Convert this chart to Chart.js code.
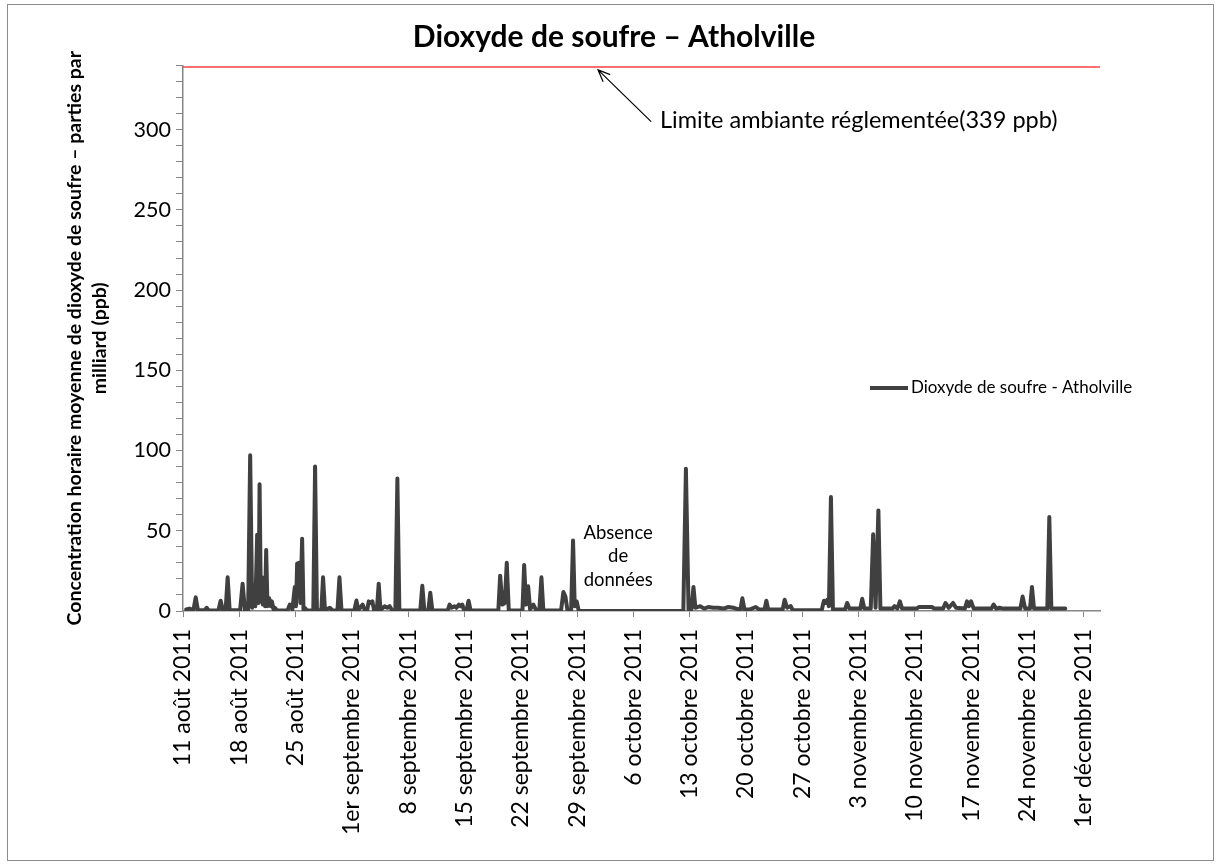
<!DOCTYPE html>
<html>
<head>
<meta charset="utf-8">
<script src="https://cdn.jsdelivr.net/npm/chart.js@4.4.1/dist/chart.umd.min.js"></script>
<style>
  html, body { margin: 0; padding: 0; background: #fff; }
  #wrap { position: relative; width: 1220px; height: 867px; }
  #frame { position: absolute; left: 7px; top: 4px; width: 1205px; height: 855px; border: 1.5px solid #8c8c8c; pointer-events: none; }
</style>
</head>
<body>
<div id="wrap">
  <canvas id="so2Chart" width="1220" height="867"></canvas>
  <div id="frame"></div>
</div>
<script>
// Hourly SO2 readings, days counted from 11 August 2011
const days = [
  0.4, 0.8, 1.3, 1.58, 1.85, 2.7, 2.94, 3.2, 4.4, 4.68, 4.95, 5.3, 5.55, 5.8, 7.1, 7.41, 7.7,
  8.1, 8.35, 8.6, 8.81, 9.0, 9.22, 9.4, 9.52, 9.68, 9.81, 9.93, 10.05, 10.2, 10.34, 10.5, 10.71,
  10.9, 11.05, 11.25, 11.42, 11.7, 13.0, 13.28, 13.6, 13.9, 14.05, 14.19, 14.3, 14.43, 14.6, 14.81,
  14.98, 15.14, 15.4, 16.2, 16.42, 16.65, 17.2, 17.41, 17.65, 18.25, 18.6, 19.2, 19.45, 19.7,
  21.3, 21.56, 21.8, 22.34, 22.6, 22.9, 23.09, 23.3, 23.54, 23.75, 24.1, 24.33, 24.55, 25.07,
  25.4, 25.69, 26.0, 26.4, 26.65, 26.9,
  29.5, 29.75, 30.0, 30.5, 30.74, 31.0, 32.9, 33.14, 33.4, 33.76, 34.0, 34.29, 34.5, 34.72, 34.95,
  35.25, 35.5, 35.75, 39.2, 39.43, 39.7, 40.0, 40.25, 40.5, 42.2, 42.41, 42.65, 42.91, 43.15,
  43.56, 43.9, 44.3, 44.56, 44.8, 47.0, 47.29, 47.54, 47.8, 48.25, 48.49, 48.7, 48.94, 49.2,
  62.2, 62.52, 62.85, 63.2, 63.46, 63.7, 64.3, 64.8, 65.3, 65.9, 66.5, 67.2, 67.8, 68.4, 69.1,
  69.3, 69.54, 69.8, 70.5, 71.2, 71.6, 72.3, 72.52, 72.75, 74.55, 74.8, 75.1, 75.55, 75.8,
  79.4, 79.68, 79.9, 80.09, 80.3, 80.55, 80.8, 81.3, 82.3, 82.57, 82.85, 84.2, 84.44, 84.7,
  85.5, 85.8, 86.1, 86.45, 86.7, 88.2, 88.46, 88.8, 89.12, 89.4, 91.2, 91.47, 93.1, 93.4,
  94.5, 94.79, 95.2, 95.73, 96.1, 97.2, 97.47, 97.7, 97.97, 98.3, 100.5, 100.78, 101.1, 101.5,
  102.0, 104.1, 104.38, 104.7, 105.3, 105.54, 105.8, 107.45, 107.7, 107.95, 109.68
];
const so2 = [
  1, 1.5, 0.5, 8.5, 0.5, 0.5, 2, 0.3, 0.3, 6.4, 0.5, 0.5, 21, 0.5, 0.5, 17, 0.5,
  0.5, 97, 2, 16, 3, 47.6, 5, 79, 6, 21, 4, 12, 3, 38, 3, 8,
  3, 6, 1, 2, 0.3, 0.3, 4, 1, 15, 3, 29.6, 12, 30, 5, 45,
  1, 2, 0.3, 0.3, 90, 0.5, 0.5, 21, 0.5, 2, 0.3, 0.3, 21, 0.5,
  0.3, 6.5, 0.5, 4, 0.5, 0.5, 6, 5, 6, 0.5, 0.5, 17, 0.5, 3,
  2, 3, 0.5, 0.3, 82.6, 0.3,
  0.3, 15.7, 0.3, 0.3, 11.4, 0.3, 0.3, 4, 2, 3, 2, 4, 3, 4, 0.3,
  0.3, 6.4, 0.3, 0.3, 22, 4, 5, 30, 0.3, 0.3, 28.6, 4, 15.4, 1,
  4, 0.5, 0.5, 21, 0.3, 0.3, 11.8, 9, 0.3, 0.3, 44, 3, 6, 0,
  0, 88.6, 1, 1, 15, 2, 3, 1.5, 2.5, 2, 2, 1.5, 2.5, 2, 1,
  1, 7.9, 1, 1, 2.5, 1, 1, 6.4, 1, 1, 7, 2, 3, 0.5,
  0.5, 6.4, 5, 7, 3, 71, 1, 1, 1, 5, 1.5, 1.5, 7.6, 1.5,
  1.5, 47.8, 2, 62.7, 1.5, 1.5, 3, 1.5, 6, 1.5, 1.5, 2.5, 2.5, 1.5,
  1.5, 5, 2, 5, 2, 1.5, 6, 3, 6, 1.5, 1.5, 4, 1.5, 2,
  1.5, 1.5, 9, 1.5, 1.5, 15, 1.5, 1.5, 58.6, 1.5, 1.5
];

const tickDays = [0, 7, 14, 21, 28, 35, 42, 49, 56, 63, 70, 77, 84, 91, 98, 105, 112];
const tickLabels = [
  '11 août 2011', '18 août 2011', '25 août 2011', '1er septembre 2011', '8 septembre 2011',
  '15 septembre 2011', '22 septembre 2011', '29 septembre 2011', '6 octobre 2011',
  '13 octobre 2011', '20 octobre 2011', '27 octobre 2011', '3 novembre 2011',
  '10 novembre 2011', '17 novembre 2011', '24 novembre 2011', '1er décembre 2011'
];
const yLabels = [0, 50, 100, 150, 200, 250, 300];
const yMax = 340;
const xMax = 114;
const limitValue = 339;

const chartTitle = 'Dioxyde de soufre – Atholville';
const seriesName = 'Dioxyde de soufre - Atholville';
const limitText = 'Limite ambiante réglementée(339 ppb)';
const gapText = ['Absence', 'de', 'données'];

const FONT = 'Lato, "Liberation Sans", sans-serif';
Chart.defaults.font.family = FONT;
Chart.defaults.color = '#000';

// Title, notes, arrow and legend drawn on top of the plot
const notesPlugin = {
  id: 'notes',
  afterDatasetsDraw(chart) {
    const { ctx, scales: { x, y } } = chart;
    ctx.save();

    ctx.fillStyle = '#000';
    ctx.font = 'bold 30px ' + FONT;
    ctx.textAlign = 'center';
    ctx.textBaseline = 'middle';
    ctx.fillText(chartTitle, 614, 37);

    // arrow pointing at the limit line
    const x1 = x.getPixelForValue(58.2), y1 = y.getPixelForValue(305);
    const x2 = x.getPixelForValue(51.6), y2 = y.getPixelForValue(337.3);
    ctx.strokeStyle = '#000';
    ctx.lineWidth = 1.2;
    ctx.beginPath();
    ctx.moveTo(x1, y1);
    ctx.lineTo(x2, y2);
    const ang = Math.atan2(y2 - y1, x2 - x1);
    ctx.moveTo(x2 - 13 * Math.cos(ang - 0.4), y2 - 13 * Math.sin(ang - 0.4));
    ctx.lineTo(x2, y2);
    ctx.lineTo(x2 - 13 * Math.cos(ang + 0.4), y2 - 13 * Math.sin(ang + 0.4));
    ctx.stroke();

    ctx.font = '23.5px ' + FONT;
    ctx.textAlign = 'left';
    ctx.textBaseline = 'alphabetic';
    ctx.fillText(limitText, x.getPixelForValue(59.3), y.getPixelForValue(301));

    // missing data note
    ctx.font = '18.5px ' + FONT;
    ctx.textAlign = 'center';
    ctx.textBaseline = 'middle';
    const gx = x.getPixelForValue(54.1);
    const gy = y.getPixelForValue(48.6);
    gapText.forEach((t, i) => ctx.fillText(t, gx, gy + i * 23.5));

    // legend
    const ly = 388;
    ctx.strokeStyle = '#404040';
    ctx.lineWidth = 4;
    ctx.beginPath();
    ctx.moveTo(870, ly);
    ctx.lineTo(908, ly);
    ctx.stroke();
    ctx.font = '17px ' + FONT;
    ctx.textAlign = 'left';
    ctx.fillText(seriesName, 911, ly);

    ctx.restore();
  }
};

const ctx = document.getElementById('so2Chart').getContext('2d');
const so2Chart = new Chart(ctx, {
  type: 'line',
  data: {
    datasets: [
      {
        label: seriesName,
        data: days.map((d, i) => ({ x: d, y: so2[i] })),
        borderColor: '#404040',
        borderWidth: 4,
        pointRadius: 0,
        tension: 0,
        borderJoinStyle: 'round',
        borderCapStyle: 'round'
      },
      {
        label: 'Limite',
        data: [{ x: 0, y: limitValue }, { x: xMax, y: limitValue }],
        borderColor: '#ff4040',
        borderWidth: 1.5,
        pointRadius: 0
      }
    ]
  },
  options: {
    responsive: false,
    animation: false,
    layout: { padding: { left: 0, right: 120, top: 65.5, bottom: 16 } },
    plugins: {
      legend: { display: false },
      tooltip: { enabled: false },
      title: { display: false }
    },
    scales: {
      x: {
        type: 'linear',
        min: 0,
        max: xMax,
        afterBuildTicks: s => { s.ticks = tickDays.map(v => ({ value: v })); },
        afterFit: s => { s.height = 240; },
        ticks: {
          autoSkip: false,
          minRotation: 90,
          maxRotation: 90,
          padding: 12,
          color: '#000',
          font: { size: 23 },
          callback: (v, i) => tickLabels[i]
        },
        grid: { drawOnChartArea: false, drawTicks: true, tickLength: 6, color: '#868686' },
        border: { color: '#868686', width: 1.5 }
      },
      y: {
        type: 'linear',
        min: 0,
        max: yMax,
        afterBuildTicks: s => {
          const t = [];
          for (let v = 0; v <= yMax; v += 10) t.push({ value: v });
          s.ticks = t;
        },
        afterFit: s => { s.width = 183; },
        ticks: {
          autoSkip: false,
          padding: 5,
          color: '#000',
          font: { size: 21.5 },
          callback: v => (yLabels.includes(v) ? v : '')
        },
        grid: { drawOnChartArea: false, drawTicks: true, tickLength: 7, color: '#868686' },
        border: { color: '#868686', width: 1.5 },
        title: {
          display: true,
          text: ['Concentration horaire moyenne de dioxyde de soufre – parties par', 'milliard (ppb)'],
          color: '#000',
          font: { size: 19.5, weight: 'bold', lineHeight: 1.28 },
          padding: { top: 62.5, bottom: 0 }
        }
      }
    }
  },
  plugins: [notesPlugin]
});
</script>
</body>
</html>
